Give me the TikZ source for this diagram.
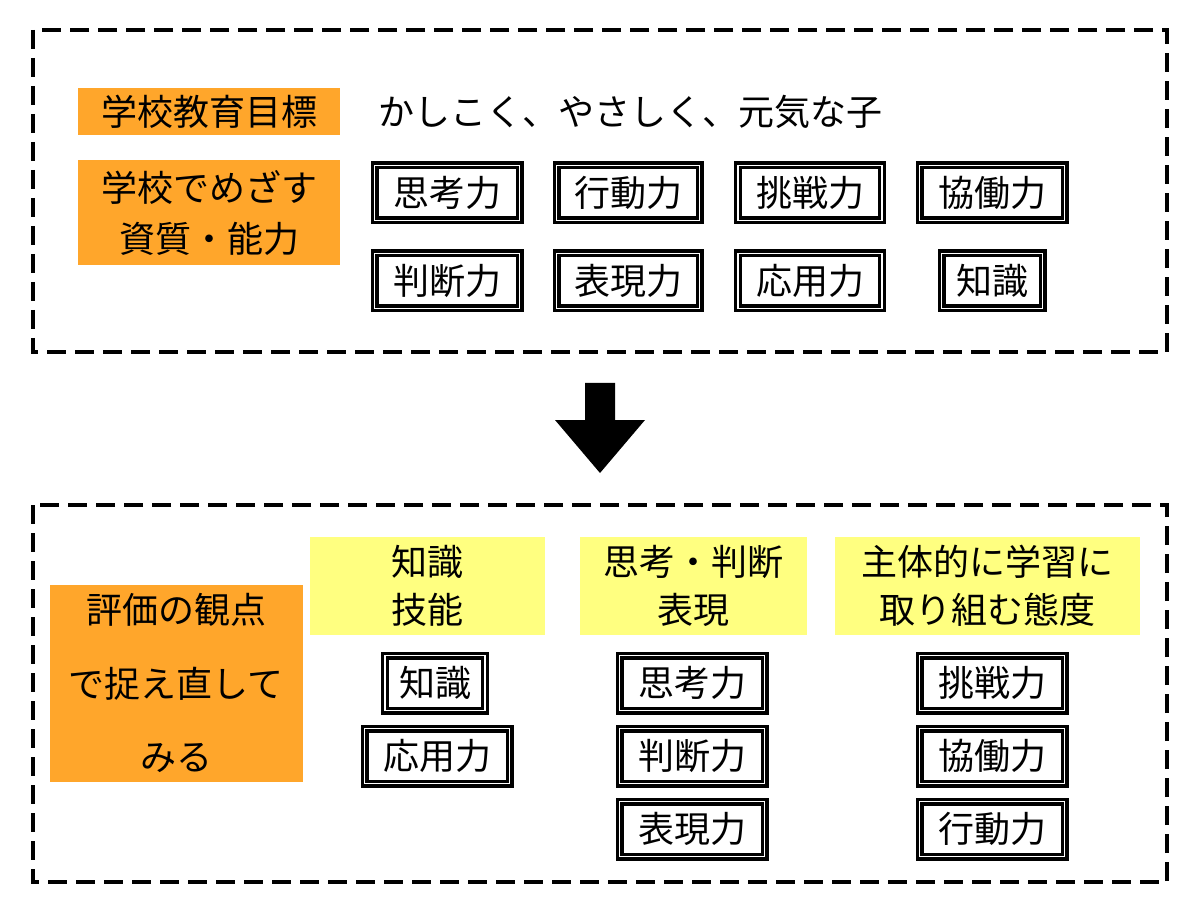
\documentclass[tikz,border=0pt]{standalone}
\usepackage{fontspec}
\setmainfont{Noto Sans CJK JP}
\begin{document}
\begin{tikzpicture}[x=0.75pt,y=-0.75pt,
 frame/.style={draw=black,line width=3.5pt,dash pattern=on 14pt off 7pt},
 lab/.style={fill=orange1,inner sep=0pt,align=center,font=\fontsize{27}{38}\selectfont},
 ylab/.style={fill=yel,inner sep=0pt,align=center,font=\fontsize{27}{36}\selectfont},
 bx/.style={draw=black,line width=2.6pt,double=white,double distance=0.8pt,inner sep=0pt,font=\fontsize{27}{30}\selectfont}]
\definecolor{orange1}{HTML}{FFA62B}
\definecolor{yel}{HTML}{FFFF80}
\useasboundingbox (0,0) rectangle (1200,909);
\draw[frame] (33,30) rectangle (1167,352);
\draw[frame] (33,505) rectangle (1167,882);
\node[lab,minimum width=262*0.75pt,minimum height=47*0.75pt] (g) at (209,112) {学校教育目標};
\node[anchor=west,inner sep=0pt,font=\fontsize{27}{30}\selectfont] (gt) at (378,112) {かしこく、やさしく、元気な子};
\node[lab,minimum width=262*0.75pt,minimum height=105*0.75pt] (s) at (209,213) {学校でめざす\\資質・能力};
\foreach \n/\t/\x/\y/\w in {a1/思考力/447/193/145, a2/行動力/628/193/143, a3/挑戦力/810/193/144, a4/協働力/992/193/145,
 b1/判断力/447/281/145, b2/表現力/628/281/143, b3/応用力/810/281/144, b4/知識/992/281/101,
 c1/知識/435/683/100, c2/応用力/437/756/145,
 d1/思考力/692/683/145, d2/判断力/692/756/145, d3/表現力/692/829/145,
 e1/挑戦力/992/683/145, e2/協働力/992/756/145, e3/行動力/992/829/145}
 \node[bx,minimum width=\w*0.75pt,minimum height=55*0.75pt] (\n) at (\x,\y) {\t};
\fill (585,383) -- (615,383) -- (615,420) -- (645,420) -- (600,473) -- (555,420) -- (585,420) -- cycle;
\node[lab,minimum width=253*0.75pt,minimum height=197*0.75pt,font=\fontsize{27}{55}\selectfont] (h) at (176,683) {評価の観点\\で捉え直して\\みる};
\node[ylab,minimum width=235*0.75pt,minimum height=98*0.75pt] (y1) at (427,586) {知識\\技能};
\node[ylab,minimum width=227*0.75pt,minimum height=98*0.75pt] (y2) at (693,586) {思考・判断\\表現};
\node[ylab,minimum width=305*0.75pt,minimum height=98*0.75pt] (y3) at (987,586) {主体的に学習に\\取り組む態度};
\end{tikzpicture}
\end{document}
